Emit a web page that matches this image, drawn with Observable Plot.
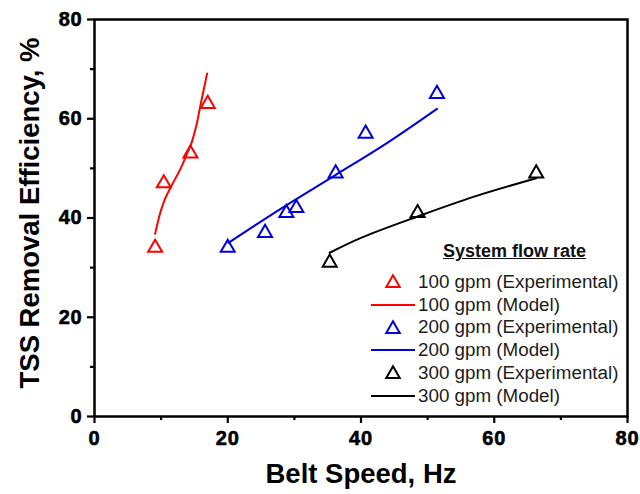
<!DOCTYPE html>
<html>
<head>
<meta charset="utf-8">
<script src="https://cdn.jsdelivr.net/npm/d3@7"></script>
<script src="https://cdn.jsdelivr.net/npm/@observablehq/plot@0.6"></script>
<style>
  html, body { margin: 0; padding: 0; background: white; }
  #wrap { position: relative; width: 640px; height: 494px; font-family: "Liberation Sans", Arial, sans-serif; }
  #legend { position: absolute; left: 0; top: 0; color: #1c1c1c; }
  #legend .head { position: absolute; left: 443px; top: 240px; font-size: 18px; font-weight: bold; text-decoration: underline; line-height: 22px; white-space: nowrap; color: #111; }
  #legend .row { position: absolute; left: 370px; height: 22.8px; display: flex; align-items: center; white-space: nowrap; font-size: 18.8px; line-height: 22.8px; }
  #legend .row svg { width: 48px; height: 22px; flex: none; }
</style>
</head>
<body>
<div id="wrap"></div>
<script>
// ---- data ----
const xTicks = [0, 20, 40, 60, 80];
const xMinor = [10, 30, 50, 70];
const yTicks = [0, 20, 40, 60, 80];
const yMinor = [10, 30, 50, 70];

const exp100X = [9.1, 10.4, 14.4, 17.0];
const exp100Y = [34, 47, 53, 63];
const mod100X = [9.1, 9.9, 10.6, 11.6, 12.9, 13.9, 14.6, 15.4, 15.9, 16.9];
const mod100Y = [36.8, 41.2, 43.9, 46.6, 49.9, 53.0, 55.3, 59.3, 62.7, 69.1];

const exp200X = [20.0, 25.6, 28.8, 30.3, 36.2, 40.7, 51.4];
const exp200Y = [34, 37, 41, 42, 49, 57, 65];
const mod200X = [20.1, 28, 36.1, 44, 51.4];
const mod200Y = [35, 41.9, 48.6, 55.2, 62];

const exp300X = [35.3, 48.5, 66.3];
const exp300Y = [31, 41, 49];
const mod300X = [35.3, 40, 48.5, 57, 66.3];
const mod300Y = [33, 36, 40.3, 44.3, 48];

const seriesNames = ["100 gpm", "200 gpm", "300 gpm"];
const seriesColors = ["#ff0000", "#0000dd", "#000000"];
const legendTitle = "System flow rate";
const xLabel = "Belt Speed, Hz";
const yLabel = "TSS Removal Efficiency, %";

// ---- build tables ----
const zip = (xs, ys) => xs.map((x, i) => ({x, y: ys[i]}));
const expSets = [zip(exp100X, exp100Y), zip(exp200X, exp200Y), zip(exp300X, exp300Y)];
const modSets = [zip(mod100X, mod100Y), zip(mod200X, mod200Y), zip(mod300X, mod300Y)];

const marks = [];
modSets.forEach((d, i) => marks.push(Plot.line(d, {x: "x", y: "y", stroke: seriesColors[i], strokeWidth: 2, curve: "catmull-rom"})));
expSets.forEach((d, i) => marks.push(Plot.dot(d, {x: "x", y: "y", symbol: "triangle", r: 5.2, stroke: seriesColors[i], strokeWidth: 2, fill: "none"})));

const chart = Plot.plot({
  width: 640,
  height: 494,
  marginLeft: 94,
  marginRight: 13,
  marginTop: 19,
  marginBottom: 78,
  style: {fontFamily: "'Liberation Sans', Arial, sans-serif", fontWeight: "bold", color: "black", background: "white"},
  x: {domain: [0, 80]},
  y: {domain: [0, 80]},
  marks: [
    Plot.axisX({ticks: xTicks, tickSize: 7, tickPadding: 7, strokeWidth: 2.2, fontSize: 20, fontWeight: "bold", label: null, tickFormat: d => String(d)}),
    Plot.axisX({ticks: xMinor, tickSize: 4, strokeWidth: 2.2, label: null, tickFormat: () => ""}),
    Plot.axisY({ticks: yTicks, tickSize: 7, tickPadding: 5, strokeWidth: 2.2, fontSize: 20, fontWeight: "bold", label: null, tickFormat: d => String(d)}),
    Plot.axisY({ticks: yMinor, tickSize: 4, strokeWidth: 2.2, label: null, tickFormat: () => ""}),
    ...marks,
    Plot.frame({stroke: "black", strokeWidth: 2.5}),
    Plot.text([xLabel], {frameAnchor: "bottom", dy: 66, textAnchor: "middle", fontSize: 27.5, fontWeight: "bold", fill: "black"}),
    Plot.text([yLabel], {frameAnchor: "left", dx: -64, dy: -5, textAnchor: "middle", rotate: -90, fontSize: 27.5, fontWeight: "bold", fill: "black"})
  ]
});

// force bold weight on every SVG text; thicken tick labels slightly
d3.select(chart).selectAll("text").style("font-weight", "bold");
d3.select(chart).selectAll("g[aria-label*='tick label'] text")
  .style("letter-spacing", "0.8px")
  .style("stroke", "black")
  .style("stroke-width", "0.6px");

const wrap = document.getElementById("wrap");
wrap.appendChild(chart);

// ---- legend (HTML overlay) ----
const legend = document.createElement("div");
legend.id = "legend";
const head = document.createElement("div");
head.className = "head";
head.textContent = legendTitle;
legend.appendChild(head);
let row = 0;
seriesNames.forEach((name, i) => {
  ["Experimental", "Model"].forEach(kind => {
    const r = document.createElement("div");
    r.className = "row";
    r.style.top = (270.7 + row * 22.8) + "px";
    const sym = kind === "Experimental"
      ? `<svg viewBox="0 0 48 22"><path d="${d3.symbol(d3.symbolTriangle, Math.PI * 5 * 5)()}" transform="translate(23,12)" fill="none" stroke="${seriesColors[i]}" stroke-width="2"/></svg>`
      : `<svg viewBox="0 0 48 22"><line x1="1" x2="45" y1="11" y2="11" stroke="${seriesColors[i]}" stroke-width="2"/></svg>`;
    r.innerHTML = sym + `<span>${name} (${kind})</span>`;
    legend.appendChild(r);
    row++;
  });
});
wrap.appendChild(legend);
</script>
</body>
</html>
